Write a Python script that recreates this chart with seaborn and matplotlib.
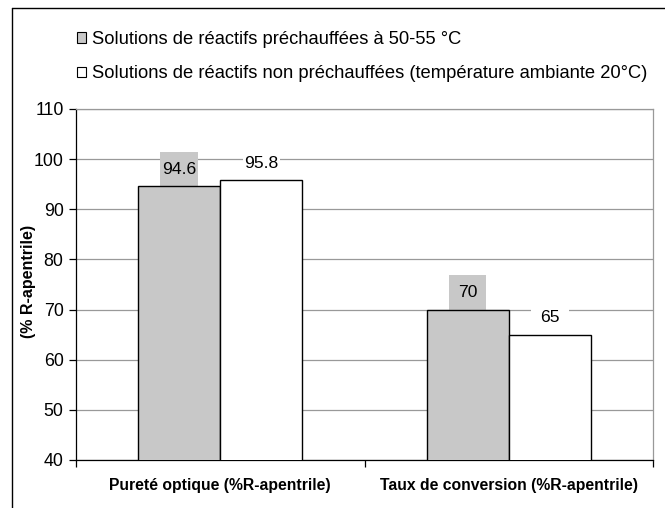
import matplotlib
matplotlib.use("Agg")
import matplotlib.pyplot as plt
from matplotlib.patches import Patch, Rectangle
from matplotlib.lines import Line2D
import seaborn as sns
import pandas as pd

categories = ["Pureté optique (%R-apentrile)", "Taux de conversion (%R-apentrile)"]
series = [
    "Solutions de réactifs préchauffées à 50-55 °C",
    "Solutions de réactifs non préchauffées (température ambiante 20°C)",
]
heated = [94.6, 70]
ambient = [95.8, 65]
value_labels = [["94.6", "70"], ["95.8", "65"]]
y_ticks = [40, 50, 60, 70, 80, 90, 100, 110]
colors = ["#C8C8C8", "#FFFFFF"]

sns.set_theme(style="white")
plt.rcParams["font.family"] = ["Liberation Sans", "DejaVu Sans"]
plt.rcParams["text.color"] = "black"
plt.rcParams["axes.labelcolor"] = "black"
plt.rcParams["xtick.color"] = "black"
plt.rcParams["ytick.color"] = "black"

df = pd.DataFrame({
    "cat": categories * 2,
    "serie": [series[0]] * 2 + [series[1]] * 2,
    "val": heated + ambient,
})

fig = plt.figure(figsize=(6.65, 5.08), dpi=100)
ax = fig.add_axes([0.1143, 0.0945, 0.8677, 0.691])

sns.barplot(data=df, x="cat", y="val", hue="serie", hue_order=series,
            palette=colors, edgecolor="black", linewidth=1.0, width=0.57,
            saturation=1, legend=False, ax=ax, zorder=3)

ax.set_ylim(40, 110)
ax.set_xlim(-0.5, 1.5)
ax.set_yticks(y_ticks)
ax.set_yticklabels([str(t) for t in y_ticks], fontsize=12.8)
ax.yaxis.grid(True, color="#999999", linewidth=0.9, zorder=0)
ax.set_axisbelow(True)

# category separators as major ticks, names as minor ticks
ax.set_xticks([-0.5, 0.5, 1.5])
ax.set_xticklabels([])
ax.set_xticks([0, 1], minor=True)
ax.set_xticklabels(categories, minor=True, fontsize=11.3, fontweight="bold")
ax.tick_params(axis="x", which="major", direction="out", length=5, width=0.9,
               color="black", bottom=True)
ax.tick_params(axis="x", which="minor", length=0, pad=13)
ax.tick_params(axis="y", direction="out", length=5, width=0.9, color="black",
               left=True, pad=4)

ax.set_xlabel("")
ax.set_ylabel("(% R-apentrile)", fontsize=11.5, fontweight="bold")
ax.yaxis.set_label_coords(-0.069, 0.51)

for side in ["left", "bottom"]:
    ax.spines[side].set_color("black")
    ax.spines[side].set_linewidth(0.9)
for side in ["top", "right"]:
    ax.spines[side].set_color("#999999")
    ax.spines[side].set_linewidth(0.9)

# value labels with a filled box sitting on top of each bar
box_w = 0.13
box_h = 6.8
for s_idx, container in enumerate(ax.containers):
    for b_idx, bar in enumerate(container):
        xc = bar.get_x() + bar.get_width() / 2
        top = bar.get_height()
        ax.add_patch(Rectangle((xc - box_w / 2, top), box_w, box_h,
                               facecolor=colors[s_idx], edgecolor="none",
                               zorder=2.5))
        ax.text(xc, top + box_h / 2, value_labels[s_idx][b_idx],
                ha="center", va="center", fontsize=12.6, zorder=4)

handles = [Patch(facecolor=c, edgecolor="black", linewidth=0.8) for c in colors]
fig.legend(handles, series, loc="upper left", bbox_to_anchor=(0.116, 0.939),
           frameon=False, fontsize=13.2, handlelength=0.5, handleheight=0.5,
           handletextpad=0.3, labelspacing=0.95, borderpad=0, borderaxespad=0)

# outer chart frame
fig.add_artist(Line2D([12 / 665, 12 / 665], [0, 1 - 8 / 508], color="black",
                      linewidth=1.0, transform=fig.transFigure))
fig.add_artist(Line2D([12 / 665, 1], [1 - 8 / 508, 1 - 8 / 508], color="black",
                      linewidth=1.0, transform=fig.transFigure))

fig.savefig("out.png", dpi=100)
